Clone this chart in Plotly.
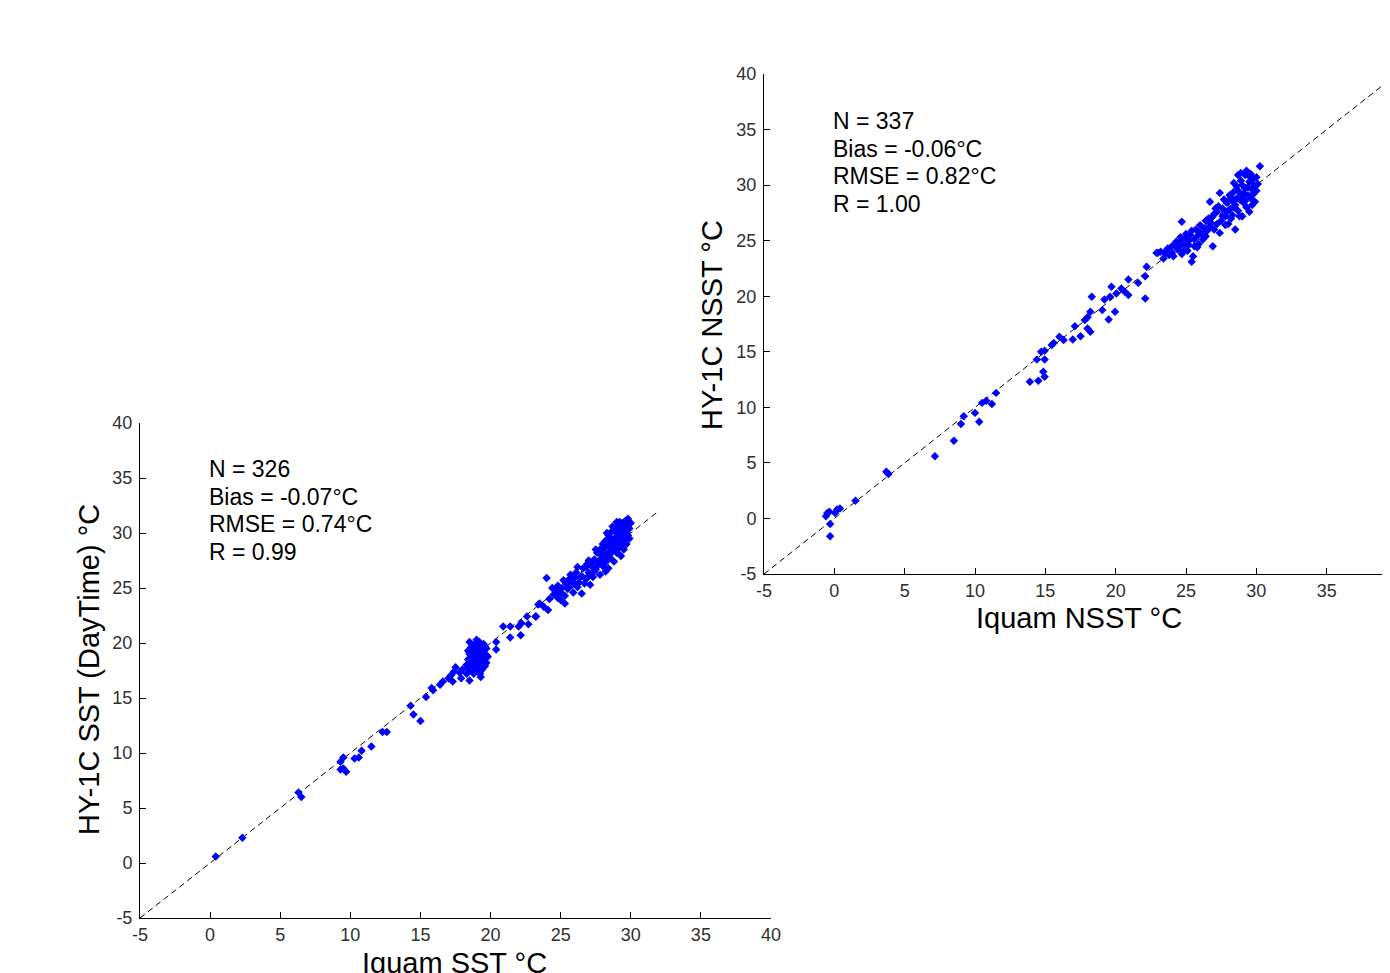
import plotly.graph_objects as go

# ---------------- data ----------------
# left panel: Iquam SST vs HY-1C SST (DayTime)
sst_iquam = [
    0.4, 2.3, 6.3, 6.5, 9.3, 9.5, 9.3, 9.7, 9.5, 10.3, 10.6, 10.8, 11.5, 12.3, 12.6, 14.3, 14.5, 15.0,
    15.4, 15.8, 15.9, 16.4, 16.6, 17.0, 17.2, 17.3, 17.5, 17.4, 17.9, 18.5, 17.8, 18.0,
    18.3, 18.4, 18.5, 18.5, 18.6, 18.7, 18.7, 18.8, 18.8, 18.9, 18.9, 19.0, 19.0, 19.1, 19.1, 19.2,
    19.2, 19.3, 19.3, 19.4, 19.4, 19.5, 19.5, 19.6, 19.6, 19.7, 19.25, 18.6, 18.9, 19.0, 19.8, 19.7,
    18.4, 19.1, 19.3,
    18.4, 18.6, 18.7, 18.8, 18.9, 19.0, 19.0, 19.1, 19.2, 19.2, 19.3, 19.4, 19.5, 19.5, 19.6, 19.1,
    18.5, 18.8, 19.7, 18.3,
    20.4, 20.4, 20.9, 21.4, 21.4, 22.0, 22.15, 22.2, 22.6, 22.7, 23.25, 23.4, 23.2, 23.5, 24.1, 24.0, 23.8,
    24.5, 24.6, 24.8, 25.0, 25.0, 25.1, 25.3, 25.4, 25.5, 25.6, 25.8, 25.9, 26.0, 26.1, 26.3, 26.5,
    26.5, 26.6, 26.8, 26.9, 27.0, 27.1, 27.2, 27.3, 27.4, 27.5, 27.6, 27.7, 27.8, 27.9, 28.0, 28.1,
    28.2, 28.2, 28.3, 28.4, 28.4, 28.5, 28.5, 28.6, 28.7, 28.7, 28.8, 28.8, 28.9, 28.9, 29.0, 29.0,
    29.1, 29.1, 29.2, 29.2, 29.3, 29.3, 29.4, 29.4, 29.5, 29.5, 29.6, 29.6, 29.7, 29.7, 29.8, 29.8,
    29.9, 28.0, 27.5, 28.6, 29.0, 27.9, 28.3, 26.9, 26.2, 25.7, 24.8,
    24.2, 24.4, 24.7, 25.2, 25.3, 25.6, 25.9, 26.2, 26.4, 26.7, 26.8, 27.0, 27.3, 27.4, 27.6, 27.8,
    28.0, 28.1, 28.3, 28.4, 28.5, 28.6, 28.7, 28.8, 28.9, 29.0, 29.0, 29.1, 29.2, 29.3, 29.4, 29.5,
    29.6, 29.7, 29.8, 29.9, 30.0, 29.2, 28.2, 27.2,
]
sst_hy1c = [
    0.6, 2.3, 6.4, 6.0, 9.2, 9.6, 8.5, 8.3, 8.6, 9.5, 9.6, 10.2, 10.6, 11.9, 11.9, 14.3, 13.5, 12.9,
    15.1, 15.9, 15.7, 16.2, 16.5, 16.8, 17.1, 16.5, 17.8, 17.4, 16.8, 16.6, 17.3, 17.6,
    18.0, 18.5, 19.0, 20.1, 17.5, 18.2, 18.8, 19.3, 19.8, 17.8, 18.5, 19.0, 20.3, 18.0, 18.7, 19.4,
    17.3, 18.3, 19.9, 18.9, 17.6, 19.2, 18.1, 19.7, 18.6, 18.2, 17.2, 18.9, 19.6, 17.5, 18.75, 19.5,
    17.8, 20.0, 16.9,
    19.3, 19.6, 17.9, 18.4, 19.1, 18.2, 18.8, 19.3, 18.5, 20.1, 17.9, 19.6, 18.6, 19.9, 17.9, 17.7,
    18.2, 17.2, 18.9, 17.2,
    20.1, 19.4, 21.5, 21.5, 20.5, 21.5, 20.7, 21.8, 22.4, 21.7, 22.4, 23.5, 22.4, 23.6, 23.0, 25.9, 23.3,
    24.4, 24.8, 25.2, 23.9, 24.6, 25.0, 24.3, 25.4, 24.9, 25.8, 25.3, 24.6, 25.9, 26.4, 25.5, 24.5,
    26.1, 26.8, 25.8, 27.2, 26.4, 25.3, 27.0, 26.0, 27.6, 26.7, 28.2, 27.3, 26.2, 28.0, 27.0, 28.6,
    27.5, 29.3, 28.1, 26.8, 29.8, 28.7, 27.8, 30.1, 29.2, 28.3, 27.4, 30.3, 29.6, 28.8, 30.0, 28.2,
    29.3, 30.7, 28.7, 29.9, 30.4, 27.9, 29.1, 30.9, 29.6, 28.5, 30.2, 31.1, 29.0, 30.6, 31.3, 29.8,
    30.4, 29.0, 28.5, 29.5, 31.0, 27.7, 30.0, 26.0, 26.9, 26.2, 24.1,
    24.0, 25.0, 24.5, 25.7, 23.6, 25.1, 25.4, 25.1, 26.0, 25.4, 26.9, 27.5, 27.4, 26.5, 27.0, 28.5,
    28.0, 27.2, 29.0, 27.6, 29.5, 28.4, 30.6, 29.0, 30.1, 29.4, 29.0, 28.5, 30.5, 29.2, 30.2, 30.7,
    29.4, 30.0, 30.9, 29.5, 30.9, 31.0, 26.5, 26.3,
]

# right panel: Iquam NSST vs HY-1C NSST
nsst_iquam = [
    -0.6, -0.5, -0.35, 0.05, 0.2, 0.4, -0.3, -0.3, 1.5, 3.7, 3.85, 7.15,
    8.5, 9.0, 9.2, 10.0, 10.3, 10.5, 10.8, 11.2, 11.5,
    13.9, 14.5, 14.95, 14.85, 14.4, 14.95, 14.7, 14.95, 15.45, 15.6, 16.0, 16.3, 16.95, 17.1, 17.5,
    17.8, 18.0, 18.2, 18.3, 18.0, 18.2, 19.05, 19.2, 19.5, 19.6, 19.7, 19.95, 20.05, 20.4, 20.65,
    20.9, 20.9, 21.6, 22.1, 22.1, 22.2, 22.9,
    23.0, 23.4, 23.6, 23.8, 24.0, 24.1, 24.3, 24.4, 24.6, 24.7, 24.7, 24.9, 25.0, 25.1, 25.2, 25.4,
    25.5, 25.4, 25.6, 25.8, 26.0, 26.0, 26.2, 26.4, 26.5, 26.7, 26.7, 26.9, 26.9, 27.0, 27.2, 27.4,
    27.4, 27.5, 27.6, 27.8, 27.9, 28.0, 28.1, 28.2, 28.3, 28.4, 28.5, 28.5, 28.6, 28.7, 28.8, 28.9,
    28.9, 29.0, 29.1, 29.2, 29.2, 29.3, 29.4, 29.5, 29.5, 29.6, 29.7, 29.8, 29.9, 30.0, 30.1, 30.25,
    29.3, 28.7, 29.6, 28.2, 27.8, 26.4, 25.9, 29.0, 28.4, 29.8, 27.1,
    23.2, 23.5, 23.7, 24.0, 24.2, 24.5, 24.6, 24.8, 25.0, 25.2, 25.3, 25.6, 25.7, 25.8, 26.1, 26.3,
    26.6, 26.8, 27.0, 27.2, 27.3, 27.6, 27.7, 27.9, 28.0, 28.1, 28.3, 28.4, 28.6, 28.7, 28.8, 29.0,
    29.1, 29.2, 29.4, 29.5, 29.6, 29.8, 29.9, 30.0, 29.7, 28.9,
]
nsst_hy1c = [
    0.2, 0.5, 0.6, 0.5, 0.8, 0.9, -0.5, -1.6, 1.6, 4.2, 4.0, 5.6,
    7.0, 8.5, 9.2, 9.5, 8.7, 10.4, 10.6, 10.3, 11.3,
    12.3, 12.4, 12.75, 13.2, 14.3, 14.3, 15.0, 15.1, 15.6, 15.8, 16.35, 16.05, 16.1, 17.3, 16.4,
    17.85, 18.1, 18.6, 19.95, 17.1, 16.8, 18.75, 19.7, 17.9, 19.95, 20.85, 18.6, 20.25, 20.7, 20.4,
    21.5, 20.1, 21.2, 21.8, 19.8, 22.65, 23.9,
    23.9, 23.4, 24.1, 23.7, 24.5, 23.6, 24.9, 24.2, 25.3, 26.7, 23.8, 24.6, 25.6, 24.1, 25.0, 23.1,
    23.6, 25.9, 24.5, 25.4, 25.7, 26.4, 25.1, 26.8, 25.9, 28.5, 26.3, 24.5, 27.2, 26.0, 27.6, 25.7,
    29.3, 26.8, 27.9, 27.2, 28.4, 26.5, 27.8, 28.9, 27.3, 29.4, 26.0, 28.2, 29.9, 27.7, 28.7, 30.4,
    29.2, 27.2, 28.4, 29.7, 30.9, 28.0, 29.1, 30.3, 27.6, 28.8, 29.6, 30.6, 28.5, 29.5, 30.1, 31.7,
    31.3, 30.9, 31.0, 27.0, 26.4, 25.4, 24.7, 29.0, 28.0, 29.2, 27.9,
    24.0, 23.9, 24.3, 23.9, 24.6, 24.4, 25.0, 24.0, 25.2, 24.6, 25.5, 25.1, 26.0, 24.4, 25.6, 26.1,
    27.0, 26.6, 27.4, 26.5, 28.1, 27.2, 28.7, 27.6, 28.5, 29.1, 28.6, 30.2, 28.8, 29.5, 27.2, 30.0,
    29.2, 28.6, 29.8, 30.8, 29.0, 30.1, 29.9, 30.7, 28.2, 31.1,
]

one_to_one_left = [-5, 32]
one_to_one_right = [-5, 40]

stats_left = ['N = 326', 'Bias = -0.07°C', 'RMSE = 0.74°C', 'R = 0.99']
stats_right = ['N = 337', 'Bias = -0.06°C', 'RMSE = 0.82°C', 'R = 1.00']

tick_vals = [-5, 0, 5, 10, 15, 20, 25, 30, 35, 40]
tick_text = ['-5', '0', '5', '10', '15', '20', '25', '30', '35', '40']

W, H = 1390, 973
OFF = 8  # page body margin, the figure starts 8px in from the window corner
FONT = 'Liberation Sans, Arial, sans-serif'


def px(x):
    return (x - OFF) / W


def py(y):
    return 1 - (y - OFF) / H


fig = go.Figure()

# 1:1 lines
fig.add_trace(go.Scatter(x=one_to_one_left, y=one_to_one_left, mode='lines',
                         line=dict(color='black', width=1, dash='6px,4px'),
                         xaxis='x', yaxis='y', showlegend=False, hoverinfo='skip'))
fig.add_trace(go.Scatter(x=one_to_one_right, y=one_to_one_right, mode='lines',
                         line=dict(color='black', width=1, dash='6px,4px'),
                         xaxis='x2', yaxis='y2', showlegend=False, hoverinfo='skip'))

# scatter points
fig.add_trace(go.Scatter(x=sst_iquam, y=sst_hy1c, mode='markers',
                         marker=dict(symbol='diamond', size=6.5, color='#0000ff'),
                         xaxis='x', yaxis='y', showlegend=False, cliponaxis=False))
fig.add_trace(go.Scatter(x=nsst_iquam, y=nsst_hy1c, mode='markers',
                         marker=dict(symbol='diamond', size=6.5, color='#0000ff'),
                         xaxis='x2', yaxis='y2', showlegend=False, cliponaxis=False))

axis_style = dict(
    tickvals=tick_vals, ticktext=tick_text,
    ticks='inside', ticklen=6, tickcolor='black', tickwidth=1,
    showline=True, linecolor='black', linewidth=1,
    showgrid=False, zeroline=False, automargin=False,
    tickfont=dict(family=FONT, size=18, color='#303030'),
)

fig.update_layout(
    width=W, height=H,
    margin=dict(l=0, r=0, t=0, b=0),
    paper_bgcolor='white', plot_bgcolor='white',
    xaxis=dict(domain=[px(140), px(771)], range=[-5, 40], anchor='y', **axis_style),
    yaxis=dict(domain=[py(918), py(423)], range=[-5, 40], anchor='x',
               ticklabelstandoff=3, **axis_style),
    xaxis2=dict(domain=[px(764), px(1390)], range=[-5, 39.5], anchor='y2', **axis_style),
    yaxis2=dict(domain=[py(574), py(74)], range=[-5, 40], anchor='x2',
                ticklabelstandoff=3, **axis_style),
)

# stats text, one line each
for i, line in enumerate(stats_left):
    fig.add_annotation(xref='paper', yref='paper', x=px(207), y=py(469 + i * 27.7),
                       xanchor='left', yanchor='middle', showarrow=False, text=line,
                       font=dict(family=FONT, size=23, color='black'))
for i, line in enumerate(stats_right):
    fig.add_annotation(xref='paper', yref='paper', x=px(831), y=py(121 + i * 27.7),
                       xanchor='left', yanchor='middle', showarrow=False, text=line,
                       font=dict(family=FONT, size=23, color='black'))

# axis titles
fig.add_annotation(xref='paper', yref='paper', x=px(454), y=py(963),
                   xanchor='center', yanchor='middle', showarrow=False,
                   text='Iquam SST °C', font=dict(family=FONT, size=29, color='black'))
fig.add_annotation(xref='paper', yref='paper', x=px(89), y=py(670),
                   xanchor='center', yanchor='middle', showarrow=False, textangle=-90,
                   text='HY-1C SST (DayTime) °C', font=dict(family=FONT, size=29, color='black'))
fig.add_annotation(xref='paper', yref='paper', x=px(1079), y=py(618),
                   xanchor='center', yanchor='middle', showarrow=False,
                   text='Iquam NSST °C', font=dict(family=FONT, size=29, color='black'))
fig.add_annotation(xref='paper', yref='paper', x=px(712), y=py(325),
                   xanchor='center', yanchor='middle', showarrow=False, textangle=-90,
                   text='HY-1C NSST °C', font=dict(family=FONT, size=29, color='black'))

fig.write_html("out.html")
